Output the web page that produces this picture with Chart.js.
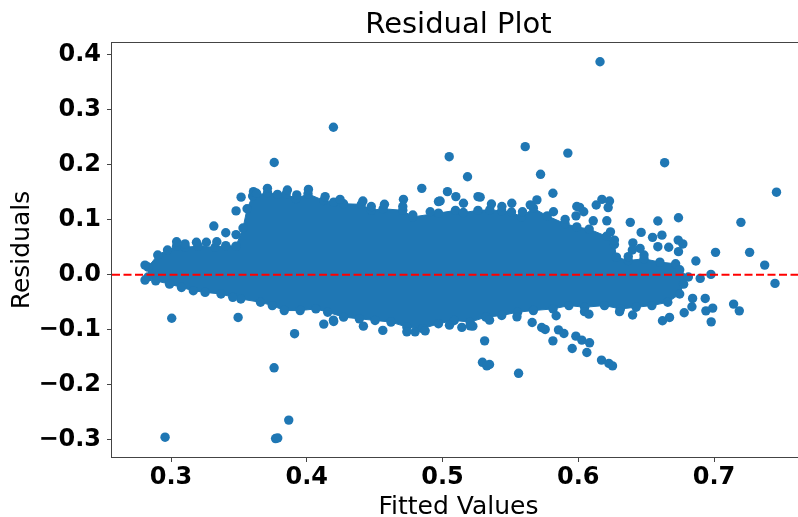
<!DOCTYPE html>
<html>
<head>
<meta charset="utf-8">
<script src="https://cdn.jsdelivr.net/npm/chart.js@4"></script>
<style>
  html, body { margin: 0; padding: 0; background: #fff; overflow: hidden; }
  #wrap { width: 810px; height: 517px; }
</style>
</head>
<body>
<div id="wrap"><canvas id="chart" width="810" height="517"></canvas></div>
<script>
const xTicks = [0.3, 0.4, 0.5, 0.6, 0.7]
const yTicks = [-0.3, -0.2, -0.1, 0.0, 0.1, 0.2, 0.3, 0.4]
const xMin = 0.2565, xMax = 0.767
const yMin = -0.331, yMax = 0.421
const zeroLevel = 0

// rim of the dense cloud (marker centres), left to right
const cloudTop = [
  [0.2830, 0.014], [0.2902, 0.036], [0.2974, 0.045], [0.3041, 0.052], [0.3105, 0.050],
  [0.3200, 0.052], [0.3324, 0.050], [0.3403, 0.053], [0.3478, 0.052], [0.3530, 0.085],
  [0.3560, 0.120], [0.3601, 0.143], [0.3711, 0.149], [0.3784, 0.146], [0.3848, 0.147],
  [0.3921, 0.138], [0.4009, 0.147], [0.4125, 0.135], [0.4198, 0.132], [0.4271, 0.129],
  [0.4402, 0.128], [0.4475, 0.117], [0.4562, 0.120], [0.4707, 0.117], [0.4780, 0.105],
  [0.4970, 0.112], [0.5095, 0.117], [0.5153, 0.113], [0.5261, 0.117], [0.5348, 0.118],
  [0.5436, 0.116], [0.5508, 0.114], [0.5581, 0.105], [0.5669, 0.121], [0.5771, 0.107],
  [0.5902, 0.093], [0.5989, 0.087], [0.6080, 0.083], [0.6208, 0.070], [0.6266, 0.055],
  [0.6281, 0.032], [0.6368, 0.026], [0.6484, 0.029], [0.6601, 0.023], [0.6717, 0.020],
  [0.6747, 0.009], [0.6811, -0.004]
]
const cloudBottom = [
  [0.2830, -0.004], [0.2887, -0.011], [0.2989, -0.017], [0.3077, -0.023], [0.3164, -0.029],
  [0.3251, -0.032], [0.3368, -0.035], [0.3455, -0.041], [0.3514, -0.044], [0.3659, -0.050],
  [0.3746, -0.056], [0.3834, -0.065], [0.3951, -0.065], [0.4067, -0.062], [0.4154, -0.068],
  [0.4271, -0.077], [0.4387, -0.080], [0.4503, -0.083], [0.4620, -0.086], [0.4737, -0.095],
  [0.4853, -0.098], [0.4970, -0.089], [0.5086, -0.083], [0.5203, -0.086], [0.5319, -0.077],
  [0.5436, -0.074], [0.5553, -0.068], [0.5669, -0.065], [0.5814, -0.062], [0.5931, -0.056],
  [0.6047, -0.059], [0.6193, -0.056], [0.6310, -0.062], [0.6426, -0.059], [0.6542, -0.056],
  [0.6659, -0.050], [0.6747, -0.035], [0.6776, -0.017]
]

// sparse points above / right of the cloud
const upperPoints = [
  [0.616, 0.387], [0.4196, 0.268], [0.376, 0.204], [0.5049, 0.2145], [0.5609, 0.2327],
  [0.5923, 0.221], [0.6636, 0.2036], [0.5184, 0.178], [0.5722, 0.1825], [0.5813, 0.148],
  [0.746, 0.150], [0.7198, 0.0952],
  [0.4847, 0.157], [0.5036, 0.151], [0.5098, 0.142], [0.4982, 0.134], [0.5154, 0.13],
  [0.5277, 0.141], [0.3516, 0.141], [0.3479, 0.116], [0.3479, 0.073], [0.3315, 0.0885],
  [0.3403, 0.0764], [0.3607, 0.151], [0.363, 0.148], [0.371, 0.157], [0.3857, 0.154],
  [0.4012, 0.155], [0.3926, 0.145], [0.4135, 0.142], [0.4245, 0.137], [0.4413, 0.134],
  [0.4712, 0.137], [0.4572, 0.128], [0.536, 0.1285], [0.551, 0.13], [0.5695, 0.136],
  [0.5589, 0.1145], [0.4781, 0.1085], [0.4909, 0.1145], [0.5817, 0.1145], [0.5646, 0.127],
  [0.5437, 0.124], [0.4707, 0.124], [0.4475, 0.124], [0.497, 0.133], [0.5261, 0.142],
  [0.3041, 0.06], [0.3187, 0.059], [0.326, 0.059], [0.3103, 0.056], [0.3337, 0.06],
  [0.5903, 0.1007], [0.5983, 0.107], [0.5989, 0.124], [0.601, 0.1225], [0.604, 0.1145],
  [0.6132, 0.1267], [0.6174, 0.137], [0.623, 0.134], [0.622, 0.122], [0.611, 0.098],
  [0.621, 0.098], [0.6237, 0.078], [0.6266, 0.063],
  [0.6383, 0.0952], [0.6586, 0.0976], [0.6738, 0.1036],
  [0.6463, 0.077], [0.6616, 0.072], [0.6547, 0.068], [0.6402, 0.058], [0.6586, 0.051],
  [0.6666, 0.05], [0.6736, 0.063], [0.677, 0.056], [0.6398, 0.045], [0.6738, 0.042],
  [0.6484, 0.036], [0.6368, 0.033], [0.6455, 0.048],
  [0.6866, 0.025], [0.7011, 0.0407], [0.7262, 0.0407], [0.7373, 0.0176], [0.7449, -0.0157],
  [0.6977, 0.0007], [0.6898, -0.0066]
]

// sparse points below the cloud
const lowerPoints = [
  [0.2808, 0.0176], [0.2808, -0.0096],
  [0.3005, -0.079], [0.3494, -0.0775], [0.391, -0.107], [0.4125, -0.0896], [0.4198, -0.0848],
  [0.456, -0.101], [0.3759, -0.169], [0.3867, -0.264], [0.2956, -0.295], [0.377, -0.2975],
  [0.3786, -0.2964], [0.4196, -0.0824], [0.4417, -0.0933], [0.4737, -0.1036], [0.4798, -0.1036],
  [0.4872, -0.1018], [0.5051, -0.0915], [0.5142, -0.0956], [0.5223, -0.0933], [0.5346, -0.0824],
  [0.5548, -0.0764], [0.5204, -0.0927],
  [0.531, -0.12], [0.5294, -0.159], [0.5346, -0.163], [0.5326, -0.1655], [0.556, -0.179],
  [0.566, -0.0866], [0.573, -0.0957], [0.5756, -0.0993], [0.5813, -0.12], [0.5854, -0.1],
  [0.5894, -0.1066], [0.5982, -0.1115], [0.6026, -0.1187], [0.6083, -0.1236], [0.5955, -0.1339],
  [0.6063, -0.1412], [0.6171, -0.155], [0.6225, -0.161], [0.6252, -0.1655],
  [0.5837, -0.0745], [0.6046, -0.067], [0.6078, -0.0715], [0.6304, -0.067], [0.64, -0.073],
  [0.662, -0.0836], [0.6672, -0.0775], [0.678, -0.069], [0.6837, -0.058], [0.694, -0.0655],
  [0.6979, -0.0855], [0.699, -0.0605], [0.7144, -0.0533], [0.7186, -0.0655],
  [0.6935, -0.043], [0.6842, -0.043]
]

const blue = '#1f77b4'
const family = 'DejaVu Sans'
const toXY = arr => arr.map(([x, y]) => ({ x, y }))
const fmt = v => Number(v).toFixed(1).replace('-', '\u2212')
const cloud = toXY([...cloudTop, ...cloudBottom.slice().reverse()])

const frame = {
  id: 'frame',
  afterDatasetsDraw(chart) {
    const { ctx, chartArea: a } = chart
    ctx.save()
    ctx.strokeStyle = '#444'
    ctx.lineWidth = 1
    ctx.strokeRect(a.left - 0.5, a.top - 0.5, a.right - a.left + 1, a.bottom - a.top + 1)
    ctx.restore()
  }
}

new Chart(document.getElementById('chart'), {
  type: 'scatter',
  data: {
    datasets: [
      {
        type: 'line',
        label: 'zero',
        data: [{ x: xMin, y: zeroLevel }, { x: xMax, y: zeroLevel }],
        borderColor: '#ff0000',
        borderWidth: 2,
        borderDash: [8, 3.5],
        pointRadius: 0,
        fill: false,
        order: 0
      },
      {
        label: 'residuals',
        data: toXY([...upperPoints, ...lowerPoints]),
        backgroundColor: blue,
        borderWidth: 0,
        pointRadius: 4.7,
        pointHoverRadius: 4.7,
        order: 1
      },
      {
        type: 'line',
        label: 'cloud',
        data: cloud,
        backgroundColor: blue,
        borderColor: blue,
        borderWidth: 1,
        pointRadius: 4.7,
        pointBackgroundColor: blue,
        pointBorderWidth: 0,
        tension: 0,
        fill: 'shape',
        order: 2
      }
    ]
  },
  options: {
    responsive: false,
    animation: false,
    devicePixelRatio: 1,
    layout: { padding: { left: 0, right: 5, top: 0, bottom: 0 } },
    plugins: {
      legend: { display: false },
      tooltip: { enabled: false }
    },
    scales: {
      x: {
        type: 'linear',
        min: xMin,
        max: xMax,
        afterBuildTicks: s => { s.ticks = xTicks.map(v => ({ value: v })) },
        afterFit: s => { s.height = 60 },
        border: { display: false },
        grid: { drawOnChartArea: false, drawTicks: true, tickLength: 5, color: '#444' },
        ticks: {
          color: '#000',
          padding: 1,
          maxRotation: 0,
          autoSkip: false,
          font: { family, size: 24, weight: 'bold' },
          callback: v => fmt(v)
        },
        title: {
          display: true,
          text: 'Fitted Values',
          color: '#000',
          font: { family, size: 25, lineHeight: 0.8 },
          padding: { top: 0, bottom: 0 }
        }
      },
      // top axis only carries the plot title, centred over the plot area
      xTop: {
        type: 'linear',
        position: 'top',
        display: true,
        min: xMin,
        max: xMax,
        afterFit: s => { s.height = 43 },
        border: { display: false },
        grid: { display: false },
        ticks: { display: false },
        title: {
          display: true,
          text: 'Residual Plot',
          color: '#000',
          font: { family, size: 29, lineHeight: 1 },
          padding: { top: 11, bottom: 0 }
        }
      },
      y: {
        min: yMin,
        max: yMax,
        afterBuildTicks: s => { s.ticks = yTicks.map(v => ({ value: v })) },
        afterFit: s => { s.width = 112 },
        border: { display: false },
        grid: { drawOnChartArea: false, drawTicks: true, tickLength: 5, color: '#444' },
        ticks: {
          color: '#000',
          padding: 6,
          autoSkip: false,
          font: { family, size: 24, weight: 'bold' },
          callback: v => fmt(v)
        },
        title: {
          display: true,
          text: 'Residuals',
          color: '#000',
          font: { family, size: 25, lineHeight: 1 },
          padding: { top: 10, bottom: 0 }
        }
      }
    }
  },
  plugins: [frame]
})
</script>
</body>
</html>
